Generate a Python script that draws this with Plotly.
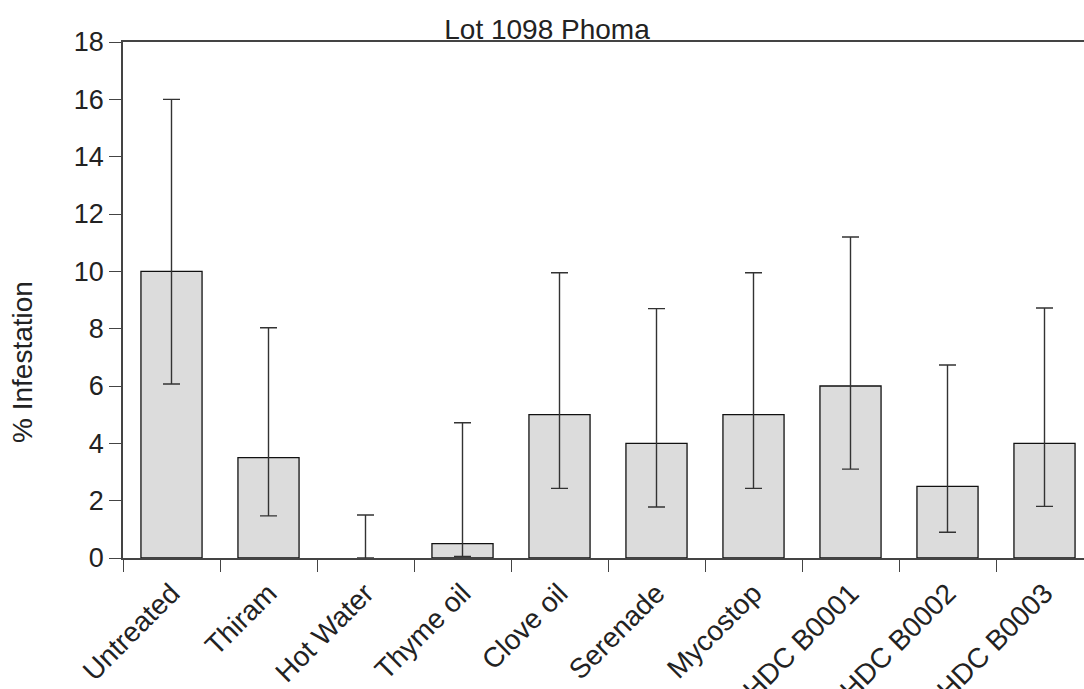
import plotly.graph_objects as go

categories = ["Untreated", "Thiram", "Hot Water", "Thyme oil", "Clove oil",
              "Serenade", "Mycostop", "HDC B0001", "HDC B0002", "HDC B0003"]
infestation = [10.0, 3.5, 0.0, 0.5, 5.0, 4.0, 5.0, 6.0, 2.5, 4.0]
upper_limit = [16.0, 8.03, 1.5, 4.72, 9.95, 8.7, 9.95, 11.2, 6.73, 8.72]
lower_limit = [6.07, 1.47, 0.0, 0.05, 2.43, 1.78, 2.43, 3.1, 0.9, 1.8]
y_ticks = [0, 2, 4, 6, 8, 10, 12, 14, 16, 18]

err_plus = [u - m for u, m in zip(upper_limit, infestation)]
err_minus = [m - l for m, l in zip(infestation, lower_limit)]
outline_w = [1.3 if v > 0 else 0 for v in infestation]

FONT = "Liberation Sans, Arial, sans-serif"
W, H = 1084, 689
ML, MT, MB = 123, 42, 131

fig = go.Figure()
fig.add_trace(go.Bar(
    x=categories, y=infestation,
    width=0.63,
    marker=dict(color="#dcdcdc", line=dict(color="#111111", width=outline_w)),
    error_y=dict(type="data", symmetric=False, array=err_plus, arrayminus=err_minus,
                 color="#333333", thickness=1.4, width=8.5),
    showlegend=False,
))

fig.update_layout(
    width=W, height=H,
    margin=dict(l=ML, r=0, t=MT, b=MB, pad=0, autoexpand=False),
    plot_bgcolor="white", paper_bgcolor="white",
    font=dict(family=FONT, size=28, color="#222222"),
    bargap=0.37,
    title=dict(text="Lot 1098 Phoma", font=dict(family=FONT, size=28, color="#222222"),
               xref="container", yref="container", x=547 / W, y=1 - 29 / H,
               xanchor="center", yanchor="middle"),
)

fig.update_xaxes(
    range=[-0.5, -0.5 + (W - ML) / 97.0],
    automargin=False,
    showline=True, linecolor="#444444", linewidth=1.5, mirror=True,
    ticks="outside", ticklen=12, tickwidth=1.3, tickcolor="#444444",
    tickson="boundaries", tickangle=-45, ticklabelstandoff=6,
    tickfont=dict(family=FONT, size=28, color="#222222"),
    showgrid=False, zeroline=False,
)
fig.update_yaxes(
    range=[0, 18], tickvals=y_ticks,
    automargin=False,
    showline=True, linecolor="#444444", linewidth=1.5,
    ticks="outside", ticklen=12, tickwidth=1.3, tickcolor="#444444",
    tickfont=dict(family=FONT, size=27, color="#222222"),
    showgrid=False, zeroline=False,
)

fig.add_annotation(
    text="% Infestation", textangle=-90,
    xref="paper", yref="paper",
    x=(22 - ML) / (W - ML), y=(558 - 362) / (H - MT - MB),
    xanchor="center", yanchor="middle", showarrow=False,
    font=dict(family=FONT, size=28, color="#222222"),
)

fig.write_html("out.html")
